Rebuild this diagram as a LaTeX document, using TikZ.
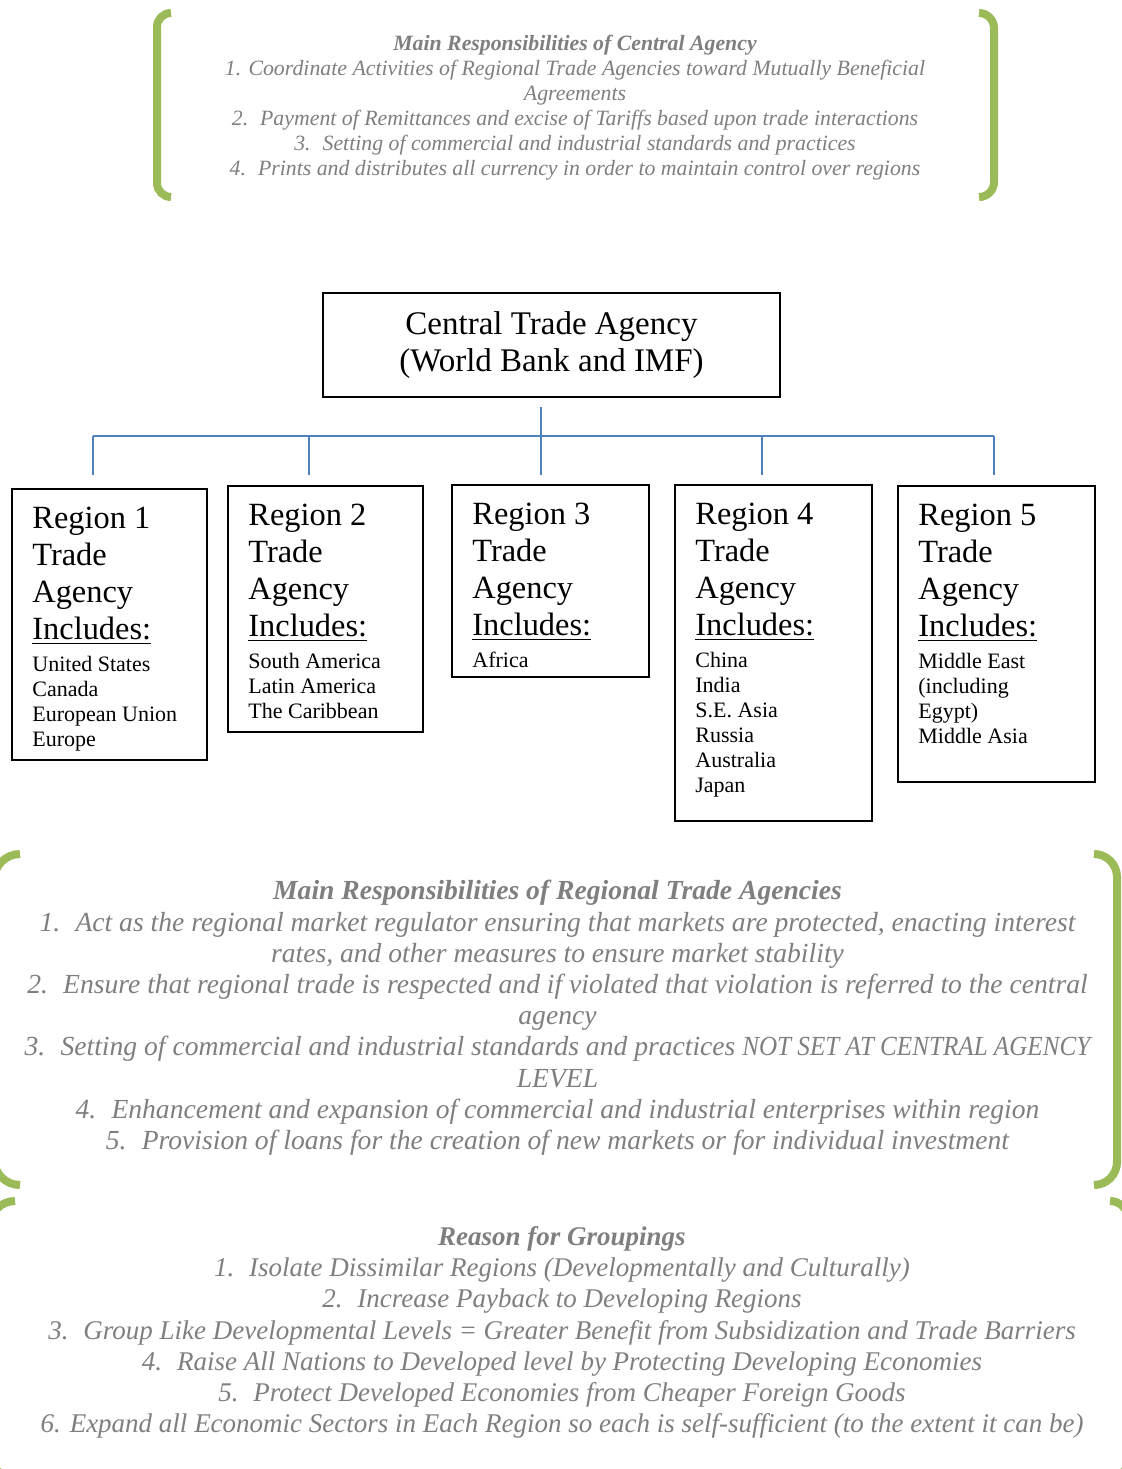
\documentclass[tikz,border=0pt]{standalone}
\usepackage{fontspec}
\usepackage{graphicx}
\setmainfont{Liberation Serif}
\definecolor{brkgreen}{HTML}{9BBB59}
\definecolor{txtgray}{HTML}{7F7F7F}
\definecolor{connblue}{HTML}{4F81BD}
\newcommand\numgap{\hspace{0.55em}}
\begin{document}
\begin{tikzpicture}[x=0.5pt,y=-0.5pt,
  brk/.style={draw=brkgreen, line width=4pt, rounded corners=#1},
  box/.style={draw=black, line width=1.2pt, inner sep=0pt, anchor=north west},
  conn/.style={draw=connblue, line width=1pt},
  head/.style={anchor=north west, inner sep=0pt, align=left, font=\fontsize{16.2}{18.5}\selectfont},
  list/.style={anchor=north west, inner sep=0pt, align=left, font=\fontsize{11}{12.5}\selectfont},
  note/.style={anchor=north, inner sep=0pt, align=center, text=txtgray},
]
\useasboundingbox (0,0) rectangle (1122,1469);
\fill[white] (0,0) rectangle (1122,1469);
\clip (0,0) rectangle (1122,1469);

% brackets
\draw[brk=7pt] (171,13) -- (157,13) -- (157,197) -- (171,197);
\draw[brk=7.5pt] (979,13) -- (994,13) -- (994,197) -- (979,197);
\draw[brk=13pt] (20,854) -- (-6,854) -- (-6,1185) -- (20,1185);
\draw[brk=11.5pt] (1094,854) -- (1117,854) -- (1117,1185) -- (1094,1185);
\draw[brk=12.5pt] (15,1201) -- (-10,1201) -- (-10,1478) -- (15,1478);
\draw[brk=9pt] (1110,1201) -- (1128,1201) -- (1128,1478) -- (1110,1478);

% notes
\node[note, font=\fontsize{10.9}{12.5}\selectfont\itshape] (topnote) at (575,35)
 {\textbf{Main Responsibilities of Central Agency}\\
  1. Coordinate Activities of Regional Trade Agencies toward Mutually Beneficial\\
  Agreements\\
  2.\numgap Payment of Remittances and excise of Tariffs based upon trade interactions\\
  3.\numgap Setting of commercial and industrial standards and practices\\
  4.\numgap Prints and distributes all currency in order to maintain control over regions};

\node[note, font=\fontsize{13.8}{15.6}\selectfont\itshape] (midnote) at (557.5,880)
 {\textbf{Main Responsibilities of Regional Trade Agencies}\\
  1.\numgap Act as the regional market regulator ensuring that markets are protected, enacting interest\\
  rates, and other measures to ensure market stability\\
  2.\numgap Ensure that regional trade is respected and if violated that violation is referred to the central\\
  agency\\
  3.\numgap Setting of commercial and industrial standards and practices \scalebox{0.91}[1]{NOT SET AT CENTRAL AGENCY}\\
  LEVEL\\
  4.\numgap Enhancement and expansion of commercial and industrial enterprises within region\\
  5.\numgap Provision of loans for the creation of new markets or for individual investment};

\node[note, font=\fontsize{13.5}{15.6}\selectfont\itshape] (botnote) at (562,1226)
 {\textbf{Reason for Groupings}\\
  1.\numgap Isolate Dissimilar Regions (Developmentally and Culturally)\\
  2.\numgap Increase Payback to Developing Regions\\
  3.\numgap Group Like Developmental Levels = Greater Benefit from Subsidization and Trade Barriers\\
  4.\numgap Raise All Nations to Developed level by Protecting Developing Economies\\
  5.\numgap Protect Developed Economies from Cheaper Foreign Goods\\
  6. Expand all Economic Sectors in Each Region so each is self-sufficient (to the extent it can be)};

% central box
\node[box, anchor=center, minimum width=228.5pt, minimum height=52pt, align=center,
      font=\fontsize{16.5}{18.75}\selectfont] (ctr) at (551.5,345)
 {Central Trade Agency\\(World Bank and IMF)};

% region boxes
\node[box, minimum width=97.5pt, minimum height=135.5pt] (r1) at (11,488) {};
\node[box, minimum width=97.5pt, minimum height=123pt] (r2) at (227,485) {};
\node[box, minimum width=98.5pt, minimum height=96pt] (r3) at (451,484) {};
\node[box, minimum width=98.5pt, minimum height=168pt] (r4) at (674,484) {};
\node[box, minimum width=98.5pt, minimum height=148pt] (r5) at (897,485) {};

\node[head] (r1h) at ([shift={(10.5pt,-9.5pt)}]r1.north west) {Region 1\\Trade\\Agency\\\underline{Includes:}};
\node[list] (r1l) at ([shift={(10.5pt,-84pt)}]r1.north west) {United States\\Canada\\European Union\\Europe};
\node[head] (r2h) at ([shift={(10.5pt,-9.5pt)}]r2.north west) {Region 2\\Trade\\Agency\\\underline{Includes:}};
\node[list] (r2l) at ([shift={(10.5pt,-84pt)}]r2.north west) {South America\\Latin America\\The Caribbean};
\node[head] (r3h) at ([shift={(10.5pt,-9.5pt)}]r3.north west) {Region 3\\Trade\\Agency\\\underline{Includes:}};
\node[list] (r3l) at ([shift={(10.5pt,-84pt)}]r3.north west) {Africa};
\node[head] (r4h) at ([shift={(10.5pt,-9.5pt)}]r4.north west) {Region 4\\Trade\\Agency\\\underline{Includes:}};
\node[list] (r4l) at ([shift={(10.5pt,-84pt)}]r4.north west) {China\\India\\S.E. Asia\\Russia\\Australia\\Japan};
\node[head] (r5h) at ([shift={(10.5pt,-9.5pt)}]r5.north west) {Region 5\\Trade\\Agency\\\underline{Includes:}};
\node[list] (r5l) at ([shift={(10.5pt,-84pt)}]r5.north west) {Middle East\\(including\\Egypt)\\Middle Asia};

% connectors
\coordinate (trunk) at (541,407);
\coordinate (bus) at (541,436);
\coordinate (d1) at (93,475);
\coordinate (d2) at (309,475);
\coordinate (d3) at (541,475);
\coordinate (d4) at (762,475);
\coordinate (d5) at (994,475);
\draw[conn] (trunk) -- (bus);
\draw[conn] (d1 |- bus) -- (d5 |- bus);
\foreach \i in {1,...,5} {\draw[conn] (d\i |- bus) -- (d\i);}
\end{tikzpicture}
\end{document}
